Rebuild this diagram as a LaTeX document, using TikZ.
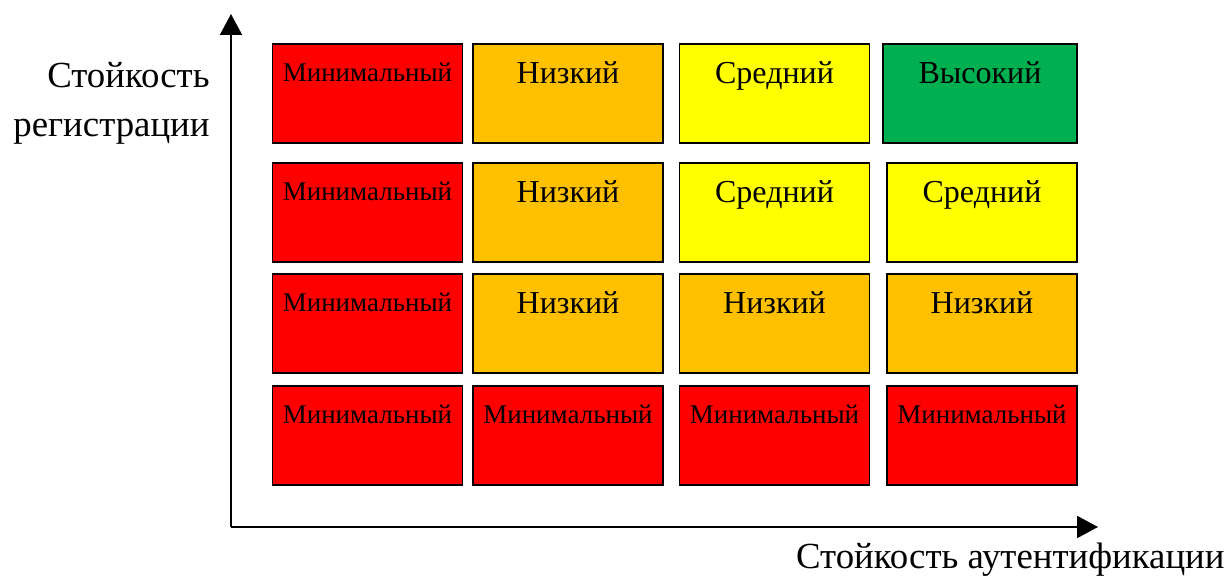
\documentclass[tikz,border=0pt]{standalone}
\usepackage{fontspec}
\setmainfont{Liberation Serif}
\usetikzlibrary{positioning,arrows.meta}

\definecolor{minred}{HTML}{FF0000}
\definecolor{loworange}{HTML}{FFC000}
\definecolor{midyellow}{HTML}{FFFF00}
\definecolor{highgreen}{HTML}{00B050}

\begin{document}
\begin{tikzpicture}[
  x=0.5pt, y=-0.5pt,
  cell/.style={rectangle, draw, line width=0.75pt, minimum width=95pt,
               inner sep=0pt, text height=19pt, text depth=30.5pt,
               font={\fontsize{13.5}{16}\selectfont}},
  bigcell/.style={cell, text height=20pt, text depth=29.5pt,
                  font={\fontsize{16}{19}\selectfont}},
  axis/.style={-{Triangle[length=10.5pt,width=11pt]}, line width=1pt},
  axlabel/.style={inner sep=0pt, font={\fontsize{18.4}{24.5}\selectfont}}
]
\useasboundingbox (0,0) rectangle (1231,576);

% Axes
\coordinate (origin) at (231,527);
\coordinate (ytip) at (231,14);
\coordinate (xtip) at (1098,527);
\draw[axis] (origin) -- (ytip);
\draw[axis] (origin) -- (xtip);

\node[axlabel, anchor=base east, align=right] (reglabel) at (210,137) {Стойкость\\регистрации};
\node[axlabel, anchor=base east] (authlabel) at (1225,568) {Стойкость аутентификации};

% Row 1
\node[cell, fill=minred] (r1c1) at (367.5,93.5) {Минимальный};
\node[bigcell, fill=loworange] (r1c2) at (568,93.5) {Низкий};
\node[bigcell, fill=midyellow] (r1c3) at (774.5,93.5) {Средний};
\node[bigcell, fill=highgreen, minimum width=97pt] (r1c4) at (980,93.5) {Высокий};

% Row 2
\node[cell, fill=minred] (r2c1) at (367.5,212.5) {Минимальный};
\node[bigcell, fill=loworange] (r2c2) at (568,212.5) {Низкий};
\node[bigcell, fill=midyellow] (r2c3) at (774.5,212.5) {Средний};
\node[bigcell, fill=midyellow] (r2c4) at (982,212.5) {Средний};

% Row 3
\node[cell, fill=minred] (r3c1) at (367.5,323.5) {Минимальный};
\node[bigcell, fill=loworange] (r3c2) at (568,323.5) {Низкий};
\node[bigcell, fill=loworange] (r3c3) at (774.5,323.5) {Низкий};
\node[bigcell, fill=loworange] (r3c4) at (982,323.5) {Низкий};

% Row 4
\node[cell, fill=minred] (r4c1) at (367.5,435.5) {Минимальный};
\node[cell, fill=minred] (r4c2) at (568,435.5) {Минимальный};
\node[cell, fill=minred] (r4c3) at (774.5,435.5) {Минимальный};
\node[cell, fill=minred] (r4c4) at (982,435.5) {Минимальный};

\end{tikzpicture}
\end{document}
